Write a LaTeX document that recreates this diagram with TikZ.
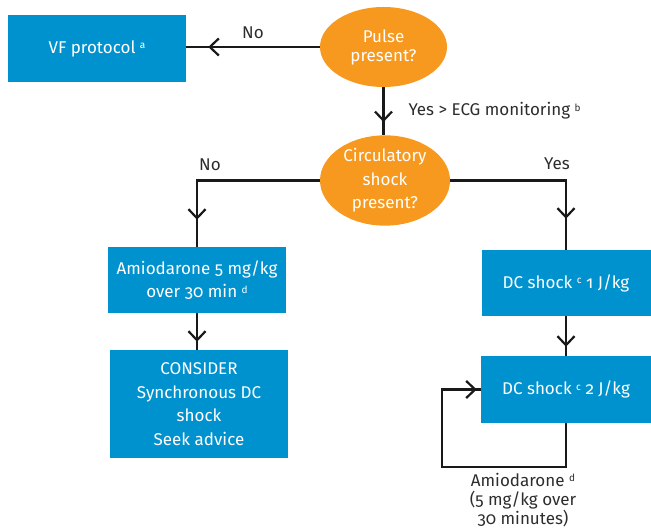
\documentclass[tikz,border=0pt]{standalone}
\usepackage{fontspec}
\setmainfont{Fira Sans}[Numbers=OldStyle]
\usetikzlibrary{shapes.geometric,arrows.meta,decorations.markings}
\definecolor{boxblue}{RGB}{0,146,207}
\definecolor{decorange}{RGB}{247,153,30}
\definecolor{labelgray}{RGB}{45,45,45}
\definecolor{linegray}{RGB}{25,25,25}
\newcommand\fnote[1]{ \raisebox{0.5ex}{\fontsize{10}{10}\selectfont #1}}
\begin{document}
\begin{tikzpicture}[x=1pt,y=-1pt,
  every node/.style={font=\fontsize{17}{23.5}\selectfont, align=center},
  tight/.style={font=\fontsize{17}{19}\selectfont},
  actionbox/.style={rectangle, fill=boxblue, text=white, inner sep=0pt},
  decision/.style={ellipse, fill=decorange, text=white, inner sep=0pt},
  conn/.style={draw=linegray, line width=2.2pt},
  tipat/.style={postaction={decorate}, decoration={markings,
      mark=at position #1 with {\arrow{Straight Barb[length=9pt,width=17pt,line width=2.2pt]}}}},
  lbl/.style={text=labelgray}]
\useasboundingbox (0,0) rectangle (651,529);

% decisions
\node[decision, tight, minimum width=127, minimum height=80] (pulse) at (383.5,47) {Pulse\\present?};
\node[decision, minimum width=130, minimum height=84] (circ) at (385,180.5) {Circulatory\\shock\\present?};

% actions
\node[actionbox, minimum width=178, minimum height=67] (vf) at (97,48.5) {VF protocol\fnote{a}};
\node[actionbox, minimum width=178, minimum height=66] (amio) at (197,280) {Amiodarone 5 mg/kg\\over 30 min\fnote{d}};
\node[actionbox, minimum width=178, minimum height=108] (consider) at (199,404) {CONSIDER\\Synchronous DC\\shock\\Seek advice};
\node[actionbox, minimum width=169, minimum height=66] (dc1) at (566,283) {DC shock\fnote{c} 1 J/kg};
\node[actionbox, minimum width=170, minimum height=67] (dc2) at (566,389.5) {DC shock\fnote{c} 2 J/kg};

% connectors
\draw[conn, tipat=-22pt] (pulse.west) -- (pulse.west -| vf.east);
\draw[conn, tipat=-13pt] (pulse.south) -- (pulse.south |- circ.north);
\draw[conn, tipat=-31pt] (circ.east) -| (dc1.north);
\draw[conn, tipat=-27pt] (circ.west) -| (amio.north);
\draw[conn, tipat=-8pt] (amio.south) -- (amio.south |- consider.north);
\draw[conn, tipat=-9pt] (dc1.south) -- (dc2.north);
\coordinate (loopcorner) at (442,467);
\draw[conn, tipat=-4pt] (dc2.south) |- (loopcorner) |- (dc2.west);

% connector labels
\node[lbl] (nolabel1) at (253,33) {No};
\node[lbl, anchor=west] (ecglabel) at (405,111) {Yes > ECG monitoring\fnote{b}};
\node[lbl] (yeslabel) at (557,164) {Yes};
\node[lbl] (nolabel2) at (210,165) {No};
\node[lbl, tight] (loop) at (523,500) {Amiodarone\fnote{d}\\(5 mg/kg over\\30 minutes)};
\end{tikzpicture}
\end{document}
